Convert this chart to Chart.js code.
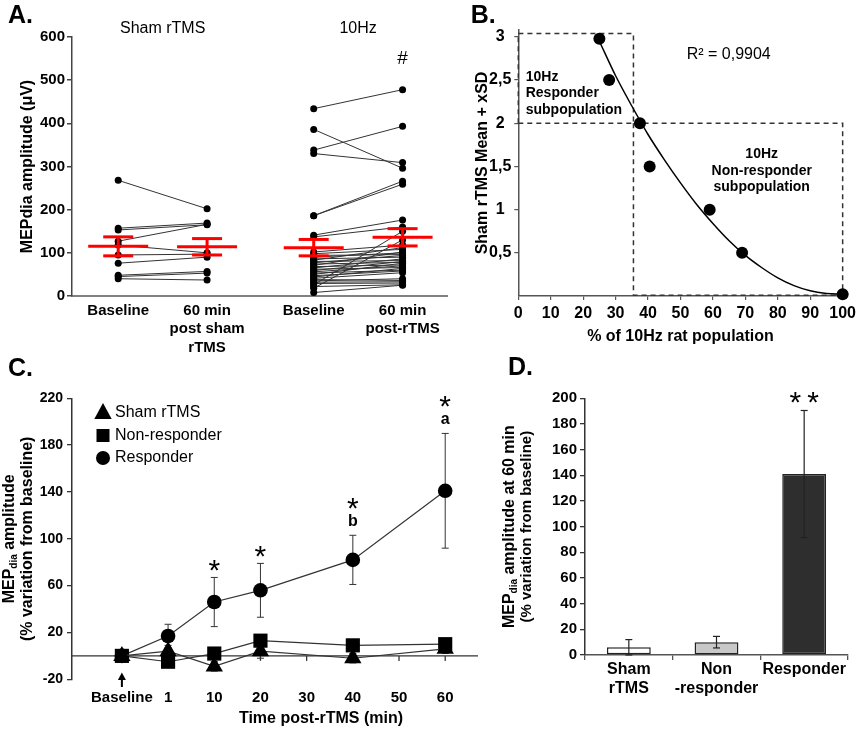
<!DOCTYPE html>
<html>
<head>
<meta charset="utf-8">
<script src="https://cdn.jsdelivr.net/npm/chart.js@4.4.0/dist/chart.umd.min.js"></script>
<style>
html,body{margin:0;padding:0;background:#fff;}
#wrap{position:relative;width:860px;height:729px;overflow:hidden;background:#fff;}
#wrap canvas{position:absolute;left:0;top:0;}
</style>
</head>
<body>
<div id="wrap">
<canvas id="cA" width="860" height="729"></canvas>
<canvas id="cB" width="860" height="729"></canvas>
<canvas id="cC" width="860" height="729"></canvas>
<canvas id="cD" width="860" height="729"></canvas>
</div>
<script>
// ---------------- Panel A data ----------------
const groupXA = [1, 2, 3.2, 4.2];
const tickLabelsA = [['Baseline'], ['60 min', 'post sham', 'rTMS'], ['Baseline'], ['60 min', 'post-rTMS']];
const shamBaseline = [268, 157, 153, 127, 118, 95, 76, 48, 45, 40];
const sham60       = [202, 169, 165, 166, 100, 97, 90, 57, 53, 37];
const tenHzBaseline = [434, 386, 338, 330, 186, 186, 141, 137, 102, 98, 94, 90, 86, 83, 80, 77, 74, 71, 68, 65, 62, 59, 56, 53, 50, 47, 44, 41, 38, 35, 32, 29, 26, 22, 18, 8];
const tenHz60       = [478, 296, 393, 309, 266, 259, 176, 160, 118, 108, 96, 100, 90, 112, 82, 94, 78, 102, 72, 86, 66, 80, 70, 60, 76, 58, 64, 54, 36, 40, 33, 30, 150, 26, 130, 25];
const meanA = [115, 114, 112, 136];
const semA  = [22, 19, 19, 20];

// ---------------- Panel B data ----------------
const popPercent = [25, 28, 37.5, 40.5, 59, 69, 100];
const sdMultiple = [2.98, 2.5, 2.0, 1.5, 1.0, 0.5, 0.02];
const fitX = [25, 30, 35, 40, 45, 50, 55, 60, 65, 70, 75, 80, 85, 90, 95, 100];
const fitY = [2.95, 2.55, 2.2, 1.87, 1.58, 1.31, 1.06, 0.84, 0.64, 0.47, 0.33, 0.21, 0.12, 0.06, 0.03, 0.02];
const responderBoxX = [0, 35.5, 35.5, 0, 0];
const responderBoxY = [2, 2, 3.04, 3.04, 2];
const nonResponderBoxX = [35.5, 35.5, 100, 100, 35.5];
const nonResponderBoxY = [2, 0.01, 0.01, 2, 2];
const yTicksB = [0.5, 1, 1.5, 2, 2.5, 3];
const rSquaredText = 'R² = 0,9904';

// ---------------- Panel C data ----------------
const timeLabels = ['Baseline', '1', '10', '20', '30', '40', '50', '60'];
const timeIndex  = [0, 1, 2, 3, 5, 7];   // Baseline, 1, 10, 20, 40, 60 min
const shamC      = [0, 4, -9, 4, -2, 6];
const shamErrC   = [0, 5, 4, 6, 4, 4];
const nonRespC   = [0, -5, 2, 13, 9, 10];
const nonRespErrC= [0, 4, 4, 4, 4, 4];
const respC      = [0, 17, 46, 56, 82, 141];
const respErrC   = [0, 10, 21, 23, 21, 49];
const yTicksC    = [-20, 20, 60, 100, 140, 180, 220];
const sigIndexC  = [2, 3, 5, 7];
const sigLetterC = ['', '', 'b', 'a'];

// ---------------- Panel D data ----------------
const groupsD = [['Sham', 'rTMS'], ['Non', '-responder'], ['Responder']];
const valuesD = [6, 10, 141];
const errD    = [6, 4.5, 49.5];

// ---------------- helpers ----------------
const FF = '"Liberation Sans", Arial, Helvetica, sans-serif';
Chart.defaults.font.family = FF;
Chart.defaults.color = '#000';
Chart.defaults.animation = false;
Chart.defaults.responsive = false;
Chart.defaults.events = [];
Chart.defaults.plugins.legend.display = false;
Chart.defaults.plugins.tooltip.enabled = false;

function fnt(size, bold) { return (bold ? 'bold ' : '') + size + 'px ' + FF; }
function txt(ctx, s, x, y, size, bold, align, base) {
  ctx.font = fnt(size, bold); ctx.textAlign = align || 'center';
  ctx.textBaseline = base || 'middle'; ctx.fillStyle = '#000'; ctx.fillText(s, x, y);
}
function vtext(ctx, x, cy, parts) {
  ctx.save(); ctx.translate(x, cy); ctx.rotate(-Math.PI / 2);
  let w = 0;
  parts.forEach(p => { ctx.font = fnt(p.size, p.bold); p.w = ctx.measureText(p.t).width; w += p.w; });
  let cx = -w / 2; ctx.textBaseline = 'alphabetic'; ctx.textAlign = 'left'; ctx.fillStyle = '#000';
  parts.forEach(p => { ctx.font = fnt(p.size, p.bold); ctx.fillText(p.t, cx, p.dy || 0); cx += p.w; });
  ctx.restore();
}
function seg(ctx, x1, y1, x2, y2) { ctx.beginPath(); ctx.moveTo(x1, y1); ctx.lineTo(x2, y2); ctx.stroke(); }
function layoutPad(area, yW, xH) {
  return { left: area.l - yW, top: area.t, right: 860 - area.r, bottom: 729 - area.b - xH };
}
function errBars(ctx, xs, ys, vals, errs, cap) {
  vals.forEach((v, i) => {
    if (!errs[i]) return;
    const px = xs(i), hi = ys(v + errs[i]), lo = ys(v - errs[i]);
    seg(ctx, px, hi, px, lo); seg(ctx, px - cap, hi, px + cap, hi); seg(ctx, px - cap, lo, px + cap, lo);
  });
}
const AX = '#444';

// ================= Panel A =================
const areaA = { l: 72, t: 37, r: 447, b: 296 };
const dsA = [];
shamBaseline.forEach((v, i) => dsA.push({ data: [{ x: groupXA[0], y: v }, { x: groupXA[1], y: sham60[i] }] }));
tenHzBaseline.forEach((v, i) => dsA.push({ data: [{ x: groupXA[2], y: v }, { x: groupXA[3], y: tenHz60[i] }] }));
dsA.forEach(d => Object.assign(d, { showLine: true, borderColor: '#333', borderWidth: 1, pointRadius: 3.5,
  pointBackgroundColor: '#000', pointBorderColor: '#000', pointBorderWidth: 0, clip: false }));

const plugA = {
  id: 'plugA',
  afterDatasetsDraw(chart) {
    const { ctx } = chart; const { x, y } = chart.scales;
    ctx.save(); ctx.strokeStyle = '#ff0000'; ctx.lineWidth = 3;
    groupXA.forEach((g, i) => {
      const px = x.getPixelForValue(g), pm = y.getPixelForValue(meanA[i]);
      const ph = y.getPixelForValue(meanA[i] + semA[i]), pl = y.getPixelForValue(meanA[i] - semA[i]);
      seg(ctx, px - 30, pm, px + 30, pm); seg(ctx, px, ph, px, pl);
      seg(ctx, px - 15, ph, px + 15, ph); seg(ctx, px - 15, pl, px + 15, pl);
    });
    ctx.restore();
  },
  afterDraw(chart) {
    const { ctx, chartArea } = chart; const { x } = chart.scales;
    ctx.save();
    txt(ctx, 'A.', 8, 23, 25, true, 'left', 'alphabetic');
    txt(ctx, 'Sham rTMS', (x.getPixelForValue(groupXA[0]) + x.getPixelForValue(groupXA[1])) / 2, 29, 16, false);
    txt(ctx, '10Hz', (x.getPixelForValue(groupXA[2]) + x.getPixelForValue(groupXA[3])) / 2, 29, 16, false);
    txt(ctx, '#', x.getPixelForValue(groupXA[3]), 59, 19, false);
    vtext(ctx, 31.5, (chartArea.top + chartArea.bottom) / 2, [{ t: 'MEPdia amplitude (μV)', size: 16, bold: true }]);
    ctx.restore();
  }
};

new Chart(document.getElementById('cA'), {
  type: 'scatter',
  data: { datasets: dsA },
  options: {
    layout: { padding: layoutPad(areaA, 60, 60) },
    scales: {
      x: { type: 'linear', min: 0.48, max: 4.7,
        afterBuildTicks: s => { s.ticks = groupXA.map(v => ({ value: v })); },
        ticks: { callback: (v, i) => tickLabelsA[i], font: { size: 15, weight: 'bold', lineHeight: 1.25 }, padding: 5, maxRotation: 0, autoSkip: false },
        grid: { display: false, drawTicks: false }, border: { color: '#808080', width: 2 },
        afterFit: s => { s.height = 60; } },
      y: { min: 0, max: 600,
        ticks: { stepSize: 100, font: { size: 15, weight: 'bold' }, padding: 2 },
        grid: { drawOnChartArea: false, tickLength: 5, color: AX, lineWidth: 1.5 },
        border: { color: AX, width: 1.5 },
        afterFit: s => { s.width = 60; } }
    }
  },
  plugins: [plugA]
});

// ================= Panel B =================
const areaB = { l: 518.3, t: 30, r: 845, b: 296 };
const plugB = {
  id: 'plugB',
  afterDraw(chart) {
    const { ctx, chartArea } = chart;
    ctx.save();
    txt(ctx, 'B.', 470.7, 23.3, 25, true, 'left', 'alphabetic');
    txt(ctx, rSquaredText, 686.7, 55, 16, false, 'left');
    ['10Hz', 'Responder', 'subpopulation'].forEach((s, i) => txt(ctx, s, chartArea.left + 7.4, 76.7 + i * 16.7, 14, true, 'left'));
    ['10Hz', 'Non-responder', 'subpopulation'].forEach((s, i) => txt(ctx, s, 761.7, 154 + i * 16.8, 14, true, 'center'));
    txt(ctx, '% of 10Hz rat population', (chartArea.left + chartArea.right) / 2, 336.7, 16, true);
    vtext(ctx, 486.5, (chartArea.top + chartArea.bottom) / 2, [{ t: 'Sham rTMS Mean + xSD', size: 16, bold: true }]);
    ctx.restore();
  }
};
const toXY = (xs, ys) => xs.map((v, i) => ({ x: v, y: ys[i] }));
new Chart(document.getElementById('cB'), {
  type: 'scatter',
  data: { datasets: [
    { data: toXY(popPercent, sdMultiple), pointRadius: 6, pointBackgroundColor: '#000', pointBorderWidth: 0, showLine: false, clip: false },
    { data: toXY(fitX, fitY), showLine: true, borderColor: '#000', borderWidth: 1.5, pointRadius: 0, cubicInterpolationMode: 'monotone', clip: false },
    { data: toXY(responderBoxX, responderBoxY), showLine: true, borderColor: '#333', borderWidth: 1.5, borderDash: [5, 4], pointRadius: 0, clip: false },
    { data: toXY(nonResponderBoxX, nonResponderBoxY), showLine: true, borderColor: '#333', borderWidth: 1.5, borderDash: [5, 4], pointRadius: 0, clip: false }
  ] },
  options: {
    layout: { padding: layoutPad(areaB, 60, 50) },
    scales: {
      x: { type: 'linear', min: 0, max: 100,
        ticks: { stepSize: 10, font: { size: 16, weight: 'bold' }, padding: 4, maxRotation: 0, autoSkip: false },
        grid: { drawOnChartArea: false, tickLength: 4, color: '#555', lineWidth: 1.2 },
        border: { color: '#555', width: 1.5 },
        afterFit: s => { s.height = 50; } },
      y: { min: 0, max: 3.08,
        afterBuildTicks: s => { s.ticks = yTicksB.map(v => ({ value: v })); },
        ticks: { callback: v => String(v).replace('.', ','), crossAlign: 'center', font: { size: 16, weight: 'bold' }, padding: 3 },
        grid: { drawOnChartArea: false, tickLength: 4, color: '#555', lineWidth: 1.2 },
        border: { color: '#555', width: 1.5 },
        afterFit: s => { s.width = 60; } }
    }
  },
  plugins: [plugB]
});

// ================= Panel C =================
const areaC = { l: 72, t: 398.3, r: 478, b: 679.3 };
const seriesC = [
  { label: 'Sham rTMS', vals: shamC, errs: shamErrC, style: 'triangle', r: 10 },
  { label: 'Non-responder', vals: nonRespC, errs: nonRespErrC, style: 'rect', r: 10 },
  { label: 'Responder', vals: respC, errs: respErrC, style: 'circle', r: 7.3 }
];
function legendMarker(ctx, style, x, y) {
  ctx.beginPath();
  if (style === 'triangle') { ctx.moveTo(x, y - 10); ctx.lineTo(x + 8.7, y + 6); ctx.lineTo(x - 8.7, y + 6); ctx.closePath(); }
  else if (style === 'rect') { ctx.rect(x - 6.5, y - 6.5, 13, 13); }
  else { ctx.arc(x, y, 7, 0, Math.PI * 2); }
  ctx.fill();
}
const plugC = {
  id: 'plugC',
  beforeDatasetsDraw(chart) {
    const { ctx, chartArea } = chart; const { x, y } = chart.scales;
    ctx.save(); ctx.strokeStyle = '#333'; ctx.lineWidth = 1.3;
    const y0 = y.getPixelForValue(0);
    seg(ctx, chartArea.left, y0, chartArea.right, y0);
    timeLabels.forEach((_, i) => { const px = x.getPixelForValue(i); seg(ctx, px, y0, px, y0 + 5); });
    ctx.lineWidth = 1;
    seriesC.forEach(s => errBars(ctx, i => x.getPixelForValue(timeIndex[i]), v => y.getPixelForValue(v), s.vals, s.errs, 3.5));
    ctx.restore();
  },
  afterDraw(chart) {
    const { ctx, chartArea } = chart; const { x, y } = chart.scales;
    ctx.save();
    // arrow at baseline
    const bx = x.getPixelForValue(0);
    ctx.strokeStyle = '#000'; ctx.fillStyle = '#000'; ctx.lineWidth = 2;
    seg(ctx, bx, 687, bx, 678);
    ctx.beginPath(); ctx.moveTo(bx, 672.5); ctx.lineTo(bx - 4, 680); ctx.lineTo(bx + 4, 680); ctx.closePath(); ctx.fill();
    // legend
    seriesC.forEach((s, i) => {
      const ly = 413 + i * 22.5;
      ctx.fillStyle = '#000'; legendMarker(ctx, s.style, 103, ly);
      txt(ctx, s.label, 115, ly, 16, false, 'left');
    });
    // significance marks
    sigIndexC.forEach((ti, k) => {
      const j = timeIndex.indexOf(ti);
      const px = x.getPixelForValue(ti), top = y.getPixelForValue(respC[j] + respErrC[j]);
      let starC = top - 14.5;
      if (sigLetterC[k]) { txt(ctx, sigLetterC[k], px, top - 13.5, 16, true); starC = top - 34; }
      txt(ctx, '*', px, starC + 17, 30, false, 'center', 'alphabetic');
    });
    txt(ctx, 'C.', 8, 376, 25, true, 'left', 'alphabetic');
    txt(ctx, 'Time post-rTMS (min)', 321, 719, 16, true);
    const cy = (chartArea.top + chartArea.bottom) / 2;
    vtext(ctx, 14, cy, [{ t: 'MEP', size: 16, bold: true }, { t: 'dia', size: 10, bold: true, dy: 3 }, { t: ' amplitude', size: 16, bold: true }]);
    vtext(ctx, 32, cy, [{ t: '(% variation from baseline)', size: 16, bold: true }]);
    ctx.restore();
  }
};
new Chart(document.getElementById('cC'), {
  type: 'scatter',
  data: { datasets: seriesC.map(s => ({
    label: s.label, data: timeIndex.map((t, i) => ({ x: t, y: s.vals[i] })), showLine: true,
    borderColor: '#333', borderWidth: 1.2, pointStyle: s.style, pointRadius: s.r,
    pointBackgroundColor: '#000', pointBorderColor: '#000', pointBorderWidth: 0, clip: false })) },
  options: {
    layout: { padding: layoutPad(areaC, 60, 50) },
    scales: {
      x: { type: 'linear', min: -1.08, max: 7.71,
        afterBuildTicks: s => { s.ticks = timeLabels.map((_, i) => ({ value: i })); },
        ticks: { callback: (v, i) => timeLabels[i], font: { size: 15, weight: 'bold' }, padding: 10, maxRotation: 0, autoSkip: false },
        grid: { display: false, drawTicks: false }, border: { display: false },
        afterFit: s => { s.height = 50; } },
      y: { min: -20, max: 220,
        afterBuildTicks: s => { s.ticks = yTicksC.map(v => ({ value: v })); },
        ticks: { font: { size: 14, weight: 'bold' }, padding: 4 },
        grid: { drawOnChartArea: false, tickLength: 5, color: '#333', lineWidth: 1.3 },
        border: { color: '#333', width: 1.5 },
        afterFit: s => { s.width = 60; } }
    }
  },
  plugins: [plugC]
});

// ================= Panel D =================
const areaD = { l: 585, t: 398.3, r: 848, b: 655 };
const plugD = {
  id: 'plugD',
  afterDatasetsDraw(chart) {
    const { ctx } = chart; const { x, y } = chart.scales;
    ctx.save(); ctx.strokeStyle = '#222'; ctx.lineWidth = 1.2;
    errBars(ctx, i => x.getPixelForValue(i), v => y.getPixelForValue(v), valuesD, errD, 3.5);
    const last = valuesD.length - 1;
    const top = y.getPixelForValue(valuesD[last] + errD[last]);
    ctx.letterSpacing = '6px';
    txt(ctx, '**', x.getPixelForValue(last) + 3, top - 15.6 + 17, 30, false, 'center', 'alphabetic');
    ctx.letterSpacing = '0px';
    ctx.restore();
  },
  afterDraw(chart) {
    const { ctx, chartArea } = chart;
    ctx.save();
    txt(ctx, 'D.', 508, 375, 25, true, 'left', 'alphabetic');
    const cy = (chartArea.top + chartArea.bottom) / 2;
    vtext(ctx, 513.5, cy, [{ t: 'MEP', size: 16, bold: true }, { t: 'dia', size: 10, bold: true, dy: 3 }, { t: ' amplitude at 60 min', size: 16, bold: true }]);
    vtext(ctx, 531, cy, [{ t: '(% variation from baseline)', size: 15, bold: true }]);
    ctx.restore();
  }
};
new Chart(document.getElementById('cD'), {
  type: 'bar',
  data: { labels: groupsD, datasets: [{
    data: valuesD, backgroundColor: ['#ffffff', '#c8c8c8', '#2e2e2e'], borderColor: '#222', borderWidth: 1.5,
    borderSkipped: false, barPercentage: 0.5, categoryPercentage: 1 }] },
  options: {
    layout: { padding: layoutPad(areaD, 60, 50) },
    scales: {
      x: { ticks: { font: { size: 16, weight: 'bold', lineHeight: 1.2 }, padding: 0, maxRotation: 0, autoSkip: false },
        grid: { drawOnChartArea: false, tickLength: 5, color: '#555', lineWidth: 1.3, offset: true },
        border: { color: '#555', width: 1.5 },
        afterFit: s => { s.height = 50; } },
      y: { min: 0, max: 200,
        ticks: { stepSize: 20, font: { size: 15, weight: 'bold' }, padding: 3 },
        grid: { drawOnChartArea: false, tickLength: 5, color: '#333', lineWidth: 1.3 },
        border: { color: '#333', width: 1.5 },
        afterFit: s => { s.width = 60; } }
    }
  },
  plugins: [plugD]
});
</script>
</body>
</html>
